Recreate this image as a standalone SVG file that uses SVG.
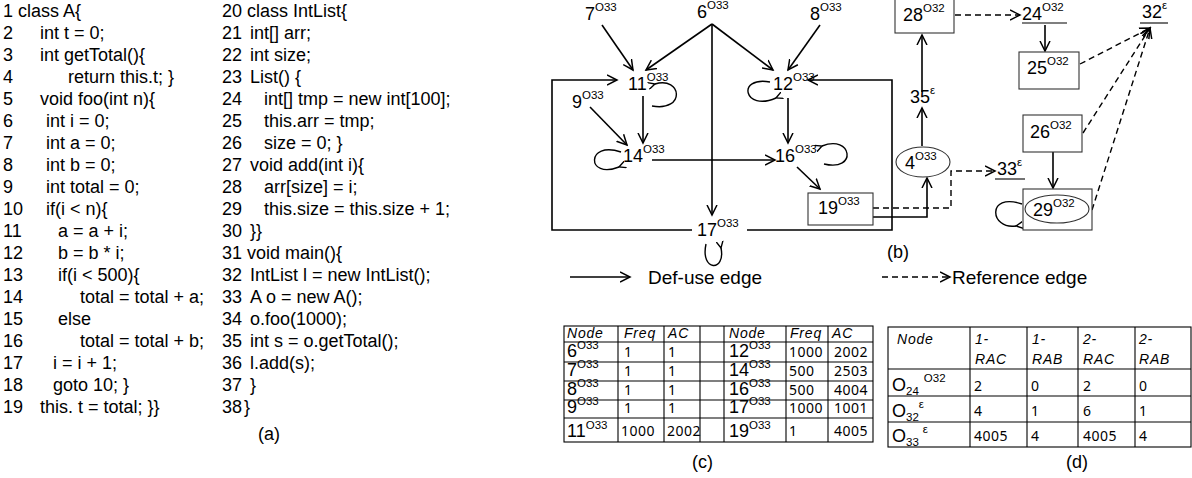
<svg xmlns="http://www.w3.org/2000/svg" width="1192" height="478" viewBox="0 0 1192 478">
<style>
text{font-family:"Liberation Sans",Arial,sans-serif;fill:#000}
.code{font-size:18px}
.nd{font-size:18px}
.sup{font-size:11.5px}
.e{stroke:#000;stroke-width:1.6;fill:none}
.d{stroke:#000;stroke-width:1.4;fill:none;stroke-dasharray:6,4}
.box{stroke:#333;stroke-width:1.1;fill:#fff}
.lp{stroke:#000;stroke-width:1.4;fill:none}
.th{font-family:"Liberation Sans",Arial,sans-serif;font-style:italic;font-size:14px;letter-spacing:0.8px}
.td{font-family:"Noto Sans","Liberation Sans",sans-serif;font-size:14px;letter-spacing:0.5px}
.tl{stroke:#000;stroke-width:1.1;fill:none}
.lbl{font-size:18px}
</style>
<defs>
<marker id="ah" markerWidth="12" markerHeight="12" refX="10" refY="5" orient="auto" markerUnits="userSpaceOnUse" viewBox="0 0 12 10">
<path d="M0,0 L10,5 L0,10" fill="none" stroke="#000" stroke-width="1.5"/>
</marker>
<marker id="ahs" markerWidth="8" markerHeight="8" refX="6" refY="3" orient="auto" markerUnits="userSpaceOnUse" viewBox="0 0 7 6">
<path d="M0,0 L6,3 L0,6" fill="none" stroke="#000" stroke-width="1.2"/>
</marker>
</defs>

<g id="code-a">
<text class="code" x="3" y="17">1 class A{</text>
<text class="code" x="3" y="39">2</text><text class="code" x="40" y="39">int t = 0;</text>
<text class="code" x="3" y="61">3</text><text class="code" x="40" y="61">int getTotal(){</text>
<text class="code" x="3" y="83">4</text><text class="code" x="68" y="83">return this.t; }</text>
<text class="code" x="3" y="105">5</text><text class="code" x="40" y="105">void foo(int n){</text>
<text class="code" x="3" y="127">6</text><text class="code" x="46" y="127">int i = 0;</text>
<text class="code" x="3" y="149">7</text><text class="code" x="46" y="149">int a = 0;</text>
<text class="code" x="3" y="171">8</text><text class="code" x="46" y="171">int b = 0;</text>
<text class="code" x="3" y="193">9</text><text class="code" x="46" y="193">int total = 0;</text>
<text class="code" x="3" y="215">10</text><text class="code" x="46" y="215">if(i &lt; n){</text>
<text class="code" x="3" y="237">11</text><text class="code" x="58" y="237">a = a + i;</text>
<text class="code" x="3" y="259">12</text><text class="code" x="58" y="259">b = b * i;</text>
<text class="code" x="3" y="281">13</text><text class="code" x="58" y="281">if(i &lt; 500){</text>
<text class="code" x="3" y="303">14</text><text class="code" x="80" y="303">total = total + a;</text>
<text class="code" x="3" y="325">15</text><text class="code" x="58" y="325">else</text>
<text class="code" x="3" y="347">16</text><text class="code" x="80" y="347">total = total + b;</text>
<text class="code" x="3" y="369">17</text><text class="code" x="53" y="369">i = i + 1;</text>
<text class="code" x="3" y="391">18</text><text class="code" x="53" y="391">goto 10; }</text>
<text class="code" x="3" y="413">19</text><text class="code" x="40" y="413">this. t = total; }}</text>

<text class="code" x="222" y="17">20 class IntList{</text>
<text class="code" x="222" y="39">21</text><text class="code" x="250" y="39">int[] arr;</text>
<text class="code" x="222" y="61">22</text><text class="code" x="250" y="61">int size;</text>
<text class="code" x="222" y="83">23</text><text class="code" x="250" y="83">List() {</text>
<text class="code" x="222" y="105">24</text><text class="code" x="264" y="105">int[] tmp = new int[100];</text>
<text class="code" x="222" y="127">25</text><text class="code" x="264" y="127">this.arr = tmp;</text>
<text class="code" x="222" y="149">26</text><text class="code" x="264" y="149">size = 0; }</text>
<text class="code" x="222" y="171">27</text><text class="code" x="250" y="171">void add(int i){</text>
<text class="code" x="222" y="193">28</text><text class="code" x="264" y="193">arr[size] = i;</text>
<text class="code" x="222" y="215">29</text><text class="code" x="264" y="215">this.size = this.size + 1;</text>
<text class="code" x="222" y="237">30</text><text class="code" x="250" y="237">}}</text>
<text class="code" x="222" y="259">31 void main(){</text>
<text class="code" x="222" y="281">32</text><text class="code" x="250" y="281">IntList l = new IntList();</text>
<text class="code" x="222" y="303">33</text><text class="code" x="250" y="303">A o = new A();</text>
<text class="code" x="222" y="325">34</text><text class="code" x="250" y="325">o.foo(1000);</text>
<text class="code" x="222" y="347">35</text><text class="code" x="250" y="347">int s = o.getTotal();</text>
<text class="code" x="222" y="369">36</text><text class="code" x="250" y="369">l.add(s);</text>
<text class="code" x="222" y="391">37</text><text class="code" x="250" y="391">}</text>
<text class="code" x="222" y="413">38</text><text class="code" x="244" y="413">}</text>
<text class="lbl" x="258" y="440">(a)</text>
</g>

<g id="connectors">
<line class="e" x1="602" y1="25" x2="633" y2="70" marker-end="url(#ah)"/>
<line class="e" x1="712" y1="24" x2="646" y2="70" marker-end="url(#ah)"/>
<line class="e" x1="712" y1="24" x2="773" y2="70" marker-end="url(#ah)"/>
<line class="e" x1="712" y1="24" x2="712" y2="215" marker-end="url(#ah)"/>
<line class="e" x1="820" y1="25" x2="788" y2="70" marker-end="url(#ah)"/>
<line class="e" x1="643" y1="96" x2="643" y2="143" marker-end="url(#ah)"/>
<line class="e" x1="590" y1="107" x2="627" y2="145" marker-end="url(#ah)"/>
<line class="e" x1="788" y1="98" x2="788" y2="143" marker-end="url(#ah)"/>
<line class="e" x1="652" y1="160" x2="775" y2="160" marker-end="url(#ah)"/>
<line class="e" x1="797" y1="167" x2="820" y2="189" marker-end="url(#ah)"/>
<path class="e" d="M692,230 H552 V80 H617" marker-end="url(#ah)"/>
<path class="e" d="M747,230 H892 V80 H808" marker-end="url(#ah)"/>
<path class="lp" d="M655,84 C682,76 686,112 652,106" marker-start="url(#ahs)"/>
<path class="lp" d="M776,98 C744,112 736,76 770,82" marker-start="url(#ahs)"/>
<path class="lp" d="M619,167 C586,180 586,140 621,152" marker-start="url(#ahs)"/>
<path class="lp" d="M822,146 C852,134 858,172 824,164" marker-start="url(#ahs)"/>
<path class="lp" d="M721,248 C726,272 700,272 706,244" marker-start="url(#ahs)"/>
<path class="lp" d="M1016,226 C990,230 986,192 1022,204" marker-start="url(#ahs)"/>
<line class="e" x1="922" y1="92" x2="922" y2="35" marker-end="url(#ah)"/>
<line class="e" x1="922" y1="146" x2="922" y2="108" marker-end="url(#ah)"/>
<path class="e" d="M873,217 H927 V178" marker-end="url(#ah)"/>
<path class="d" d="M873,208 H951 V171 H995" marker-end="url(#ah)"/>
<line class="d" x1="955" y1="15" x2="1020" y2="15" marker-end="url(#ah)"/>
<line class="e" x1="1045" y1="25" x2="1045" y2="51" marker-end="url(#ah)"/>
<line class="e" x1="1053" y1="152" x2="1053" y2="188" marker-end="url(#ah)"/>
<line class="d" x1="1080" y1="64" x2="1150" y2="28" marker-end="url(#ah)"/>
<line class="d" x1="1083" y1="133" x2="1150" y2="28" marker-end="url(#ah)"/>
<line class="d" x1="1092" y1="210" x2="1150" y2="28" marker-end="url(#ah)"/>
</g>

<g id="n7"><text class="nd" x="585" y="20">7<tspan class="sup" dy="-9">O33</tspan></text></g>
<g id="n6"><text class="nd" x="697" y="18">6<tspan class="sup" dy="-9">O33</tspan></text></g>
<g id="n8"><text class="nd" x="810" y="20">8<tspan class="sup" dy="-9">O33</tspan></text></g>
<g id="n11"><text class="nd" x="628" y="90">11<tspan class="sup" dy="-9">O33</tspan></text></g>
<g id="n12"><text class="nd" x="773" y="90">12<tspan class="sup" dy="-9">O33</tspan></text></g>
<g id="n9"><text class="nd" x="572" y="108">9<tspan class="sup" dy="-9">O33</tspan></text></g>
<g id="n14"><text class="nd" x="623" y="162">14<tspan class="sup" dy="-9">O33</tspan></text></g>
<g id="n16"><text class="nd" x="775" y="162">16<tspan class="sup" dy="-9">O33</tspan></text></g>
<g id="n17"><text class="nd" x="697" y="236">17<tspan class="sup" dy="-9">O33</tspan></text></g>
<g id="n19"><rect class="box" x="808" y="193" width="65" height="32"/><text class="nd" x="818" y="214">19<tspan class="sup" dy="-9">O33</tspan></text></g>
<g id="n4"><ellipse class="box" cx="923" cy="162" rx="27" ry="15"/><text class="nd" x="905" y="169">4<tspan class="sup" dy="-9">O33</tspan></text></g>
<g id="n35"><text class="nd" x="910" y="103">35<tspan class="sup" dy="-9">ε</tspan></text></g>
<g id="n28"><rect class="box" x="895" y="-1" width="59" height="34"/><text class="nd" x="903" y="21">28<tspan class="sup" dy="-9">O32</tspan></text></g>
<g id="n24"><text class="nd" x="1022" y="20">24<tspan class="sup" dy="-9">O32</tspan></text><line class="tl" x1="1022" y1="23" x2="1067" y2="23"/></g>
<g id="n25"><rect class="box" x="1019" y="52" width="60" height="37"/><text class="nd" x="1027" y="74">25<tspan class="sup" dy="-9">O32</tspan></text></g>
<g id="n32"><text class="nd" x="1142" y="18">32<tspan class="sup" dy="-9">ε</tspan></text><line class="tl" x1="1140" y1="23" x2="1168" y2="23"/></g>
<g id="n33"><text class="nd" x="997" y="175">33<tspan class="sup" dy="-9">ε</tspan></text><line class="tl" x1="995" y1="179" x2="1025" y2="179"/></g>
<g id="n26"><rect class="box" x="1023" y="115" width="59" height="37"/><text class="nd" x="1030" y="138">26<tspan class="sup" dy="-9">O32</tspan></text></g>
<g id="n29"><rect class="box" x="1023" y="189" width="69" height="41"/><ellipse class="box" cx="1057" cy="209" rx="32" ry="14"/><text class="nd" x="1033" y="216">29<tspan class="sup" dy="-9">O32</tspan></text></g>

<g id="legend">
<line class="e" x1="570" y1="277" x2="630" y2="277" marker-end="url(#ah)"/>
<text class="lbl" x="648" y="284" style="font-size:19px">Def-use edge</text>
<line class="d" x1="882" y1="277" x2="950" y2="277" marker-end="url(#ah)"/>
<text class="lbl" x="952" y="284" style="font-size:19px">Reference edge</text>
<text class="lbl" x="887" y="258">(b)</text>
</g>

<g id="table-c">
<rect class="tl" x="564" y="326" width="309" height="116"/>
<path class="tl" d="M564,342 H873 M564,362 H873 M564,381 H873 M564,400 H873 M564,418 H873 M618,326 V442 M664,326 V442 M700,326 V442 M724,326 V442 M786,326 V442 M828,326 V442"/>
<text class="th" x="567" y="338">Node</text><text class="th" x="624" y="338">Freq</text><text class="th" x="668" y="338">AC</text>
<text class="th" x="729" y="338">Node</text><text class="th" x="790" y="338">Freq</text><text class="th" x="832" y="338">AC</text>
<text class="nd" x="567" y="357">6<tspan class="sup" dy="-8">O33</tspan></text><text class="td" x="624" y="357">1</text><text class="td" x="668" y="357">1</text>
<text class="nd" x="567" y="376">7<tspan class="sup" dy="-8">O33</tspan></text><text class="td" x="624" y="376">1</text><text class="td" x="668" y="376">1</text>
<text class="nd" x="567" y="395">8<tspan class="sup" dy="-8">O33</tspan></text><text class="td" x="624" y="395">1</text><text class="td" x="668" y="395">1</text>
<text class="nd" x="567" y="413">9<tspan class="sup" dy="-8">O33</tspan></text><text class="td" x="624" y="413">1</text><text class="td" x="668" y="413">1</text>
<text class="nd" x="567" y="437">11<tspan class="sup" dy="-8">O33</tspan></text><text class="td" x="621" y="436">1000</text><text class="td" x="667" y="436">2002</text>
<text class="nd" x="729" y="357">12<tspan class="sup" dy="-8">O33</tspan></text><text class="td" x="789" y="357">1000</text><text class="td" x="834" y="357">2002</text>
<text class="nd" x="729" y="376">14<tspan class="sup" dy="-8">O33</tspan></text><text class="td" x="789" y="376">500</text><text class="td" x="834" y="376">2503</text>
<text class="nd" x="729" y="395">16<tspan class="sup" dy="-8">O33</tspan></text><text class="td" x="789" y="395">500</text><text class="td" x="834" y="395">4004</text>
<text class="nd" x="729" y="413">17<tspan class="sup" dy="-8">O33</tspan></text><text class="td" x="789" y="413">1000</text><text class="td" x="834" y="413">1001</text>
<text class="nd" x="729" y="437">19<tspan class="sup" dy="-8">O33</tspan></text><text class="td" x="789" y="436">1</text><text class="td" x="834" y="436">4005</text>
<text class="lbl" x="692" y="468">(c)</text>
</g>

<g id="table-d">
<rect class="tl" x="888" y="327" width="303" height="120"/>
<path class="tl" d="M888,369 H1191 M888,396 H1191 M888,422 H1191 M970,327 V447 M1027,327 V447 M1078,327 V447 M1135,327 V447"/>
<text class="th" x="897" y="344">Node</text>
<text class="th" x="975" y="344">1-</text><text class="th" x="975" y="364">RAC</text>
<text class="th" x="1032" y="344">1-</text><text class="th" x="1032" y="364">RAB</text>
<text class="th" x="1083" y="344">2-</text><text class="th" x="1083" y="364">RAC</text>
<text class="th" x="1139" y="344">2-</text><text class="th" x="1139" y="364">RAB</text>
<text class="nd" x="892" y="391">O<tspan class="sup" dy="4">24</tspan><tspan class="sup" dx="5" dy="-13">O32</tspan></text>
<text class="td" x="974" y="391">2</text><text class="td" x="1031" y="391">0</text><text class="td" x="1083" y="391">2</text><text class="td" x="1139" y="391">0</text>
<text class="nd" x="892" y="417">O<tspan class="sup" dy="4">32</tspan><tspan class="sup" dy="-13">ε</tspan></text>
<text class="td" x="974" y="416">4</text><text class="td" x="1031" y="416">1</text><text class="td" x="1083" y="416">6</text><text class="td" x="1139" y="416">1</text>
<text class="nd" x="892" y="442">O<tspan class="sup" dy="4">33</tspan><tspan class="sup" dx="4" dy="-13">ε</tspan></text>
<text class="td" x="974" y="441">4005</text><text class="td" x="1031" y="441">4</text><text class="td" x="1083" y="441">4005</text><text class="td" x="1139" y="441">4</text>
<text class="lbl" x="1066" y="468">(d)</text>
</g>
</svg>
